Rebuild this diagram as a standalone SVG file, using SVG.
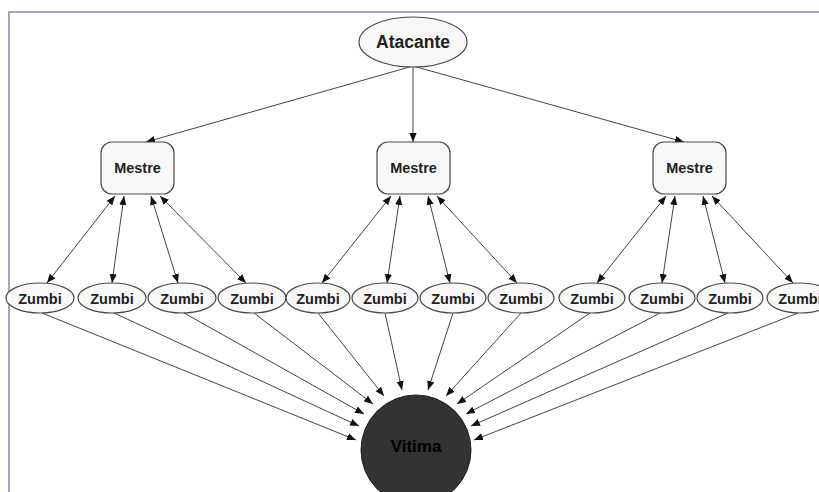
<svg xmlns="http://www.w3.org/2000/svg" width="819" height="492" viewBox="0 0 819 492">
<style>
.n{fill:#f8f8f8;stroke:#4a4a4a;stroke-width:1.2}
.t{font-family:"Liberation Sans",Arial,sans-serif;font-weight:bold;fill:#222;text-anchor:middle}
.z{font-size:14.5px}
.m{font-size:14.5px}
.e line{stroke:#444;stroke-width:1}
</style>
<defs>
<marker id="a" viewBox="0 0 10 10" refX="10" refY="5" markerWidth="9" markerHeight="9" markerUnits="userSpaceOnUse" orient="auto-start-reverse">
<path d="M0,1 L10,5 L0,9 Z" fill="#111"/>
</marker>
</defs>
<rect x="0" y="0" width="819" height="492" fill="#fff"/>
<path d="M9,492 V12 H819" fill="none" stroke="#a2a9bd" stroke-width="2"/>
<g id="connectors" class="e">
<line x1="413" y1="66" x2="146" y2="142" marker-end="url(#a)"/>
<line x1="413" y1="66" x2="413" y2="142" marker-end="url(#a)"/>
<line x1="413" y1="66" x2="684" y2="142" marker-end="url(#a)"/>
<line x1="115" y1="196" x2="47" y2="283" marker-start="url(#a)" marker-end="url(#a)"/>
<line x1="124" y1="196" x2="112" y2="283" marker-start="url(#a)" marker-end="url(#a)"/>
<line x1="151" y1="196" x2="178" y2="283" marker-start="url(#a)" marker-end="url(#a)"/>
<line x1="160" y1="196" x2="246" y2="283" marker-start="url(#a)" marker-end="url(#a)"/>
<line x1="391" y1="196" x2="322" y2="283" marker-start="url(#a)" marker-end="url(#a)"/>
<line x1="400" y1="196" x2="387" y2="283" marker-start="url(#a)" marker-end="url(#a)"/>
<line x1="428" y1="196" x2="450" y2="283" marker-start="url(#a)" marker-end="url(#a)"/>
<line x1="437" y1="196" x2="517" y2="283" marker-start="url(#a)" marker-end="url(#a)"/>
<line x1="666" y1="196" x2="597" y2="283" marker-start="url(#a)" marker-end="url(#a)"/>
<line x1="675" y1="196" x2="662" y2="283" marker-start="url(#a)" marker-end="url(#a)"/>
<line x1="703" y1="196" x2="725" y2="283" marker-start="url(#a)" marker-end="url(#a)"/>
<line x1="712" y1="196" x2="793" y2="283" marker-start="url(#a)" marker-end="url(#a)"/>
<line x1="42" y1="313" x2="356" y2="440" marker-end="url(#a)"/>
<line x1="114" y1="313" x2="359" y2="426" marker-end="url(#a)"/>
<line x1="184" y1="313" x2="364" y2="414" marker-end="url(#a)"/>
<line x1="254" y1="313" x2="373" y2="404" marker-end="url(#a)"/>
<line x1="318" y1="313" x2="384" y2="396" marker-end="url(#a)"/>
<line x1="385" y1="313" x2="402" y2="390" marker-end="url(#a)"/>
<line x1="453" y1="313" x2="428" y2="390" marker-end="url(#a)"/>
<line x1="521" y1="313" x2="446" y2="396" marker-end="url(#a)"/>
<line x1="590" y1="313" x2="457" y2="404" marker-end="url(#a)"/>
<line x1="660" y1="313" x2="466" y2="414" marker-end="url(#a)"/>
<line x1="728" y1="313" x2="471" y2="426" marker-end="url(#a)"/>
<line x1="798" y1="313" x2="474" y2="440" marker-end="url(#a)"/>
</g>
<g id="atacante"><ellipse class="n" cx="413" cy="42" rx="54" ry="25"/><text class="t" x="413" y="48" font-size="17.5">Atacante</text></g>
<g id="mestre1"><rect class="n" x="101" y="142" width="73" height="52" rx="11"/><text class="t m" x="137.5" y="173">Mestre</text></g>
<g id="mestre2"><rect class="n" x="377" y="142" width="73" height="52" rx="11"/><text class="t m" x="413.5" y="173">Mestre</text></g>
<g id="mestre3"><rect class="n" x="653" y="142" width="73" height="52" rx="11"/><text class="t m" x="689.5" y="173">Mestre</text></g>
<g id="zumbi1"><ellipse class="n" cx="40" cy="298" rx="34" ry="15"/><text class="t z" x="40" y="303.5">Zumbi</text></g>
<g id="zumbi2"><ellipse class="n" cx="112" cy="298" rx="34" ry="15"/><text class="t z" x="112" y="303.5">Zumbi</text></g>
<g id="zumbi3"><ellipse class="n" cx="182" cy="298" rx="34" ry="15"/><text class="t z" x="182" y="303.5">Zumbi</text></g>
<g id="zumbi4"><ellipse class="n" cx="252" cy="298" rx="34" ry="15"/><text class="t z" x="252" y="303.5">Zumbi</text></g>
<g id="zumbi5"><ellipse class="n" cx="318" cy="298" rx="32" ry="15"/><text class="t z" x="318" y="303.5">Zumbi</text></g>
<g id="zumbi6"><ellipse class="n" cx="385" cy="298" rx="33" ry="15"/><text class="t z" x="385" y="303.5">Zumbi</text></g>
<g id="zumbi7"><ellipse class="n" cx="453" cy="298" rx="33" ry="15"/><text class="t z" x="453" y="303.5">Zumbi</text></g>
<g id="zumbi8"><ellipse class="n" cx="521" cy="298" rx="33" ry="15"/><text class="t z" x="521" y="303.5">Zumbi</text></g>
<g id="zumbi9"><ellipse class="n" cx="592" cy="298" rx="33" ry="15"/><text class="t z" x="592" y="303.5">Zumbi</text></g>
<g id="zumbi10"><ellipse class="n" cx="662" cy="298" rx="33" ry="15"/><text class="t z" x="662" y="303.5">Zumbi</text></g>
<g id="zumbi11"><ellipse class="n" cx="730" cy="298" rx="33" ry="15"/><text class="t z" x="730" y="303.5">Zumbi</text></g>
<g id="zumbi12"><ellipse class="n" cx="800" cy="298" rx="33" ry="15"/><text class="t z" x="800" y="303.5">Zumbi</text></g>
<g id="vitima"><circle cx="416" cy="450" r="55" fill="#333" stroke="#222" stroke-width="1"/><text class="t" x="416" y="452" font-size="17" style="fill:#000">Vitima</text></g>
</svg>
